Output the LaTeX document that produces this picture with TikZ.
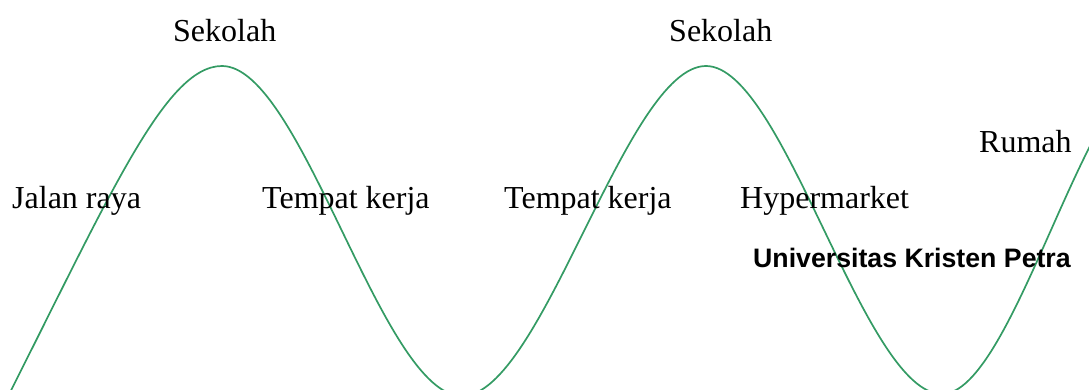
\documentclass[tikz,border=0pt]{standalone}
\usepackage{fontspec}
\setmainfont{Liberation Serif}
\newfontfamily\arialfont{Liberation Sans}
\definecolor{wavegreen}{RGB}{52,155,100}
\begin{document}
\begin{tikzpicture}[x=1pt,y=-1pt,
  wave/.style={draw=wavegreen,line width=1.7pt},
  lbl/.style={anchor=base west,inner sep=0pt,font=\fontsize{32}{38}\selectfont},
  brand/.style={anchor=base west,inner sep=0pt,font=\arialfont\bfseries\fontsize{26.7}{32}\selectfont}]
\useasboundingbox (0,0) rectangle (1089,390);
\begin{scope}
\clip (0,0) rectangle (1089,390);
\coordinate (s0) at (-4,420);
\coordinate (p1) at (222,66);
\coordinate (t1) at (462,396);
\coordinate (p2) at (706,66);
\coordinate (t2) at (942,394);
\coordinate (e0) at (1160,66);
\draw[wave] (s0) .. controls (108,200) and (164,66) .. (p1)
  .. controls (302,66) and (382,396) .. (t1)
  .. controls (542,396) and (626,66) .. (p2)
  .. controls (784,66) and (864,394) .. (t2)
  .. controls (1014,394) and (1088,66) .. (e0);
\end{scope}
\node[lbl] (sek1) at (173,42) {Sekolah};
\node[lbl] (sek2) at (669,42) {Sekolah};
\node[lbl] (rumah) at (979,153) {Rumah};
\node[lbl] (jalan) at (12,208) {Jalan raya};
\node[lbl] (tk1) at (262,208) {Tempat kerja};
\node[lbl] (tk2) at (504,208) {Tempat kerja};
\node[lbl] (hyp) at (740,208) {Hypermarket};
\node[brand] (ukp) at (753,267) {Universitas Kristen Petra};
\end{tikzpicture}
\end{document}
